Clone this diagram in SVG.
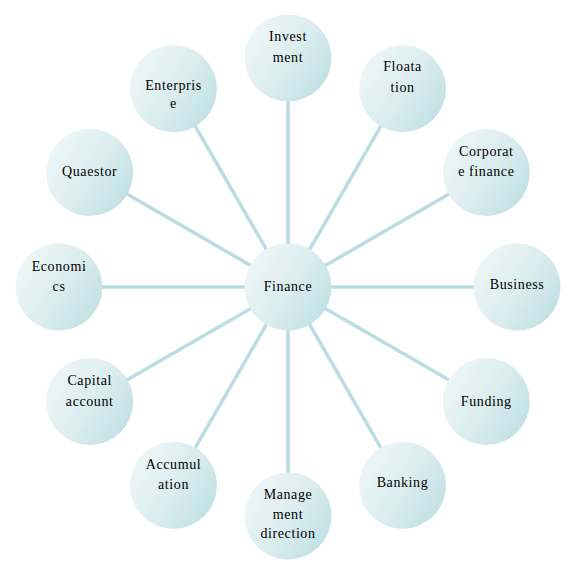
<svg xmlns="http://www.w3.org/2000/svg" width="576" height="576" viewBox="0 0 576 576">
<defs>
<linearGradient id="g" x1="0" y1="0.2" x2="1" y2="0.85">
<stop offset="0" stop-color="#eef7f8"/>
<stop offset="0.5" stop-color="#dcedef"/>
<stop offset="1" stop-color="#bcdfe3"/>
</linearGradient>
</defs>
<style>
.n{fill:url(#g);stroke:none}
.c line{stroke:#b9dde1;stroke-width:3.5}
text{font-family:"Liberation Serif","Times New Roman",serif;font-size:14px;letter-spacing:0.6px;fill:#000;text-anchor:middle}
</style>
<rect width="576" height="576" fill="#fff"/>
<g id="connectors" class="c">
<line x1="288" y1="287" x2="288" y2="58"/>
<line x1="288" y1="287" x2="402.5" y2="88.7"/>
<line x1="288" y1="287" x2="486.3" y2="172.5"/>
<line x1="288" y1="287" x2="517" y2="287"/>
<line x1="288" y1="287" x2="486.3" y2="401.5"/>
<line x1="288" y1="287" x2="402.5" y2="485.3"/>
<line x1="288" y1="287" x2="288" y2="516"/>
<line x1="288" y1="287" x2="173.5" y2="485.3"/>
<line x1="288" y1="287" x2="89.7" y2="401.5"/>
<line x1="288" y1="287" x2="59" y2="287"/>
<line x1="288" y1="287" x2="89.7" y2="172.5"/>
<line x1="288" y1="287" x2="173.5" y2="88.7"/>
</g>
<g id="finance"><circle class="n" cx="288" cy="287" r="43.5"/><text x="288" y="291">Finance</text></g>
<g id="investment"><circle class="n" cx="288" cy="58" r="43.5"/><text x="288" y="41">Invest</text><text x="288" y="62">ment</text></g>
<g id="floatation"><circle class="n" cx="402.5" cy="88.7" r="43.5"/><text x="402.5" y="71">Floata</text><text x="402.5" y="92">tion</text></g>
<g id="corporate-finance"><circle class="n" cx="486.3" cy="172.5" r="43.5"/><text x="486.3" y="156">Corporat</text><text x="486.3" y="175.5">e finance</text></g>
<g id="business"><circle class="n" cx="517" cy="287" r="43.5"/><text x="517" y="289">Business</text></g>
<g id="funding"><circle class="n" cx="486.3" cy="401.5" r="43.5"/><text x="486.3" y="406">Funding</text></g>
<g id="banking"><circle class="n" cx="402.5" cy="485.3" r="43.5"/><text x="402.5" y="487">Banking</text></g>
<g id="management-direction"><circle class="n" cx="288" cy="516" r="43.5"/><text x="288" y="499">Manage</text><text x="288" y="519">ment</text><text x="288" y="538">direction</text></g>
<g id="accumulation"><circle class="n" cx="173.5" cy="485.3" r="43.5"/><text x="173.5" y="469">Accumul</text><text x="173.5" y="489">ation</text></g>
<g id="capital-account"><circle class="n" cx="89.7" cy="401.5" r="43.5"/><text x="89.7" y="385">Capital</text><text x="89.7" y="406">account</text></g>
<g id="economics"><circle class="n" cx="59" cy="287" r="43.5"/><text x="59" y="271">Economi</text><text x="59" y="291">cs</text></g>
<g id="quaestor"><circle class="n" cx="89.7" cy="172.5" r="43.5"/><text x="89.7" y="176">Quaestor</text></g>
<g id="enterprise"><circle class="n" cx="173.5" cy="88.7" r="43.5"/><text x="173.5" y="90">Enterpris</text><text x="173.5" y="108">e</text></g>
</svg>
